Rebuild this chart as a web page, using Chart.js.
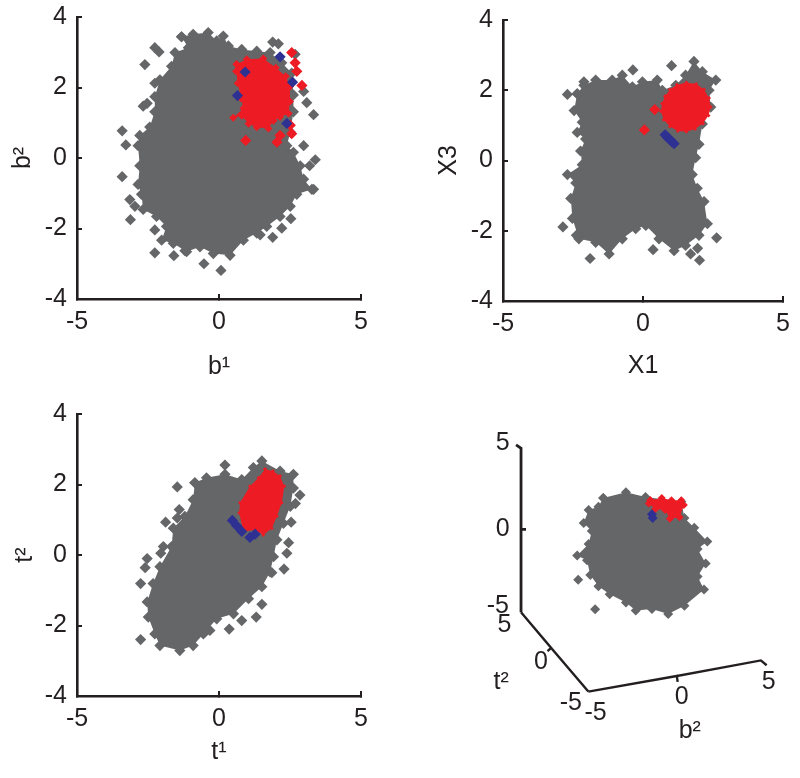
<!DOCTYPE html>
<html><head><meta charset="utf-8">
<script src="https://cdn.jsdelivr.net/npm/chart.js@4"></script>
<style>
html,body{margin:0;padding:0;background:#fff;width:800px;height:778px;overflow:hidden}
canvas{position:absolute;display:block}
</style></head><body>
<canvas id="a" style="left:0;top:0"></canvas>
<canvas id="b" style="left:400px;top:0"></canvas>
<canvas id="c" style="left:0;top:389px"></canvas>
<canvas id="d" style="left:400px;top:389px"></canvas>
<script>
const ticksX=[-5,0,5], ticksY=[-4,-2,0,2,4];

// Panel A: b1 / b2
const aGrayBody=[[-1.32,3.44],[-0.91,3.51],[-0.38,3.56],[-0.08,3.32],[0.15,3.46],[0.33,3.18],[0.80,3.08],[1.33,3.03],[1.80,2.99],[2.21,2.70],[2.56,2.41],[2.62,1.79],[2.62,1.31],[2.51,0.74],[2.39,0.35],[2.62,0.16],[2.86,-0.22],[2.98,-0.60],[3.27,-0.89],[2.74,-1.03],[2.51,-1.37],[2.15,-1.66],[1.68,-1.94],[1.33,-2.13],[0.86,-2.33],[0.39,-2.76],[-0.20,-2.71],[-0.67,-2.52],[-1.14,-2.66],[-1.61,-2.42],[-2.02,-2.33],[-1.85,-1.94],[-2.20,-1.66],[-2.67,-1.46],[-2.73,-1.03],[-2.85,-0.75],[-2.79,-0.22],[-2.85,0.35],[-2.79,0.64],[-2.44,0.88],[-2.26,1.31],[-2.26,1.74],[-2.08,2.22],[-1.67,2.60],[-1.55,2.99],[-1.08,3.13],[-1.32,3.44]];
const aGrayPts=[[-3.41,0.77],[-3.28,0.37],[-3.41,-0.53],[-3.12,-1.75],[-3.14,-1.18],[-2.96,-1.37],[-2.26,-2.69],[-1.59,-2.77],[-0.53,-3.00],[0.07,-3.19],[-2.61,2.65],[-2.26,3.13],[-2.11,3.01],[-2.67,1.47],[-2.53,1.55],[-2.26,2.12],[-1.96,1.84],[1.89,3.29],[2.09,3.24],[3.09,1.57],[3.33,1.23],[2.98,0.35],[3.39,-0.05],[3.19,-0.22],[3.33,-0.89],[2.53,-1.72],[1.89,-2.25],[2.21,-1.99],[1.45,-2.18],[-2.26,-2.04],[-1.20,-2.63],[2.98,1.89],[2.68,2.94]];
const aRedBody=[[0.62,2.66],[0.98,2.80],[1.56,2.82],[2.00,2.56],[2.35,2.32],[2.50,2.03],[2.50,1.60],[2.45,1.26],[2.15,1.16],[1.92,1.06],[1.74,0.84],[1.33,0.87],[1.04,0.97],[0.80,1.20],[0.50,1.14],[0.86,1.41],[0.78,1.69],[0.66,2.12],[0.60,2.46],[0.62,2.66]];
const aRedPts=[[2.56,2.99],[2.68,2.70],[2.74,2.46],[2.92,2.06],[2.51,0.93],[2.56,0.69],[2.15,0.64],[2.04,0.45],[0.94,0.50]];
const aBlue=[[2.15,2.87],[2.59,2.15],[0.65,1.77],[2.39,0.98],[0.92,2.44]];

// Panel B: X1 / X3
const bGrayBody=[[-2.35,1.90],[-2.11,2.14],[-1.69,2.29],[-1.10,2.29],[-0.74,2.43],[-0.38,2.10],[-0.02,2.24],[0.51,2.29],[0.69,2.00],[1.17,2.14],[1.52,2.43],[1.82,2.82],[2.12,2.53],[2.60,2.29],[2.36,2.00],[2.42,1.52],[2.12,1.04],[2.00,0.46],[1.88,0.08],[1.76,-0.40],[1.94,-0.79],[2.18,-1.17],[2.30,-1.80],[2.00,-2.13],[1.52,-2.42],[1.11,-2.57],[0.57,-2.23],[0.10,-1.85],[-0.26,-1.94],[-0.74,-2.23],[-1.21,-2.66],[-1.69,-2.33],[-2.29,-2.23],[-2.52,-1.65],[-2.58,-1.08],[-2.40,-0.64],[-2.70,-0.40],[-2.17,-0.12],[-2.23,0.27],[-2.05,0.61],[-2.35,0.80],[-2.17,1.09],[-2.46,1.42],[-2.35,1.90]];
const bGrayPts=[[-2.70,1.88],[-2.11,2.24],[-0.36,2.58],[1.02,2.70],[-2.86,-1.89],[-2.38,-2.13],[-1.89,-2.79],[0.36,-2.54],[2.63,-2.20],[2.02,-2.84],[1.70,-2.66],[1.95,-2.50],[-1.33,-2.42]];
const bRedBody=[[0.79,1.83],[0.96,2.02],[1.21,2.16],[1.55,2.22],[1.90,2.18],[2.18,2.02],[2.36,1.78],[2.42,1.52],[2.34,1.28],[2.14,1.05],[1.86,0.90],[1.55,0.82],[1.24,0.84],[0.96,0.97],[0.74,1.16],[0.64,1.40],[0.68,1.62],[0.79,1.83]];
const bRedPts=[[0.05,0.87],[0.42,1.45]];
const bBlue=[[0.79,0.73],[0.87,0.66],[0.95,0.60],[1.03,0.54],[1.11,0.48]];

// Panel C: t1 / t2
const cGrayBody=[[-0.85,2.05],[-0.44,2.19],[0.21,2.29],[0.80,2.14],[1.21,2.48],[1.51,2.67],[2.15,2.38],[2.62,2.29],[2.62,1.90],[2.51,1.38],[2.27,0.90],[2.04,0.43],[1.92,-0.05],[1.80,-0.48],[1.51,-0.90],[1.04,-1.24],[0.51,-1.67],[-0.08,-1.81],[-0.55,-2.24],[-0.91,-2.57],[-1.38,-2.71],[-2.08,-2.57],[-2.26,-2.24],[-2.49,-1.76],[-2.53,-1.33],[-2.32,-0.81],[-2.08,-0.33],[-1.67,0.24],[-1.61,0.76],[-1.20,1.10],[-0.91,1.57],[-0.85,2.05]];
const cGrayPts=[[-1.47,1.93],[0.21,2.55],[-1.88,0.93],[-1.40,1.29],[-1.47,1.05],[-1.96,0.24],[-2.05,0.05],[-2.53,-0.10],[-2.60,-0.36],[-2.76,-0.81],[-2.76,-2.40],[0.36,-2.10],[1.31,-1.76],[1.51,-1.40],[0.80,-1.86],[2.29,-0.40],[2.39,0.05],[2.45,0.35],[2.54,0.93],[2.85,1.70],[2.69,1.46],[-0.32,-2.14],[1.86,-0.50]];
const cRedBody=[[1.62,2.43],[1.90,2.38],[2.15,2.24],[2.30,1.95],[2.21,1.48],[2.04,1.10],[1.86,0.76],[1.56,0.57],[1.27,0.71],[0.86,0.67],[0.71,1.19],[0.74,1.48],[1.09,1.95],[1.39,2.19],[1.62,2.43]];
const cRedPts=[];
const cBlue=[[0.47,0.98],[0.62,0.83],[0.80,0.67],[1.09,0.50],[1.27,0.59]];

// Panel D: 3-D view, values in projected plot units
const dGrayBody=[[-0.04,1.90],[1.33,2.25],[2.51,1.96],[4.67,1.67],[4.86,0.69],[5.45,0.10],[6.24,-0.73],[5.65,-1.18],[6.14,-2.06],[5.65,-2.84],[6.04,-3.63],[4.86,-4.61],[3.88,-5.10],[2.90,-4.80],[1.92,-4.90],[1.33,-4.41],[0.35,-3.92],[-0.33,-3.43],[-0.82,-2.75],[-1.02,-1.86],[-1.61,-1.57],[-0.92,-0.88],[-0.73,-0.10],[-1.22,0.39],[-0.92,1.18],[-0.33,1.37],[-0.04,1.90]];
const dGrayPts=[[-1.55,-3.04],[-0.53,-4.82]];
const dRedBody=[[2.80,1.76],[3.49,1.90],[4.08,1.76],[4.67,1.76],[4.82,1.47],[4.57,0.73],[3.98,0.65],[3.69,1.18],[3.10,1.24],[2.71,1.57],[2.80,1.76]];
const dRedPts=[];
const dBlue=[[2.90,0.92],[2.94,0.69]];
const dAxisZ=[[-5.3,5.1],[-5,4.9],[-5,0],[-4.7,0],[-5,0],[-5,-5]];
const dAxisT=[[-5,-5],[-3.18,-7.15],[-3.4,-7.35],[-3.18,-7.15],[-0.94,-9.79]];
const dAxisB=[[-0.94,-9.79],[4.4,-8.85],[4.45,-9.2],[4.4,-8.85],[9.47,-7.91],[9.82,-8.2]];
const dLabelText=["5","0","-5","5","0","-5","-5","0","5"];
const dLabelX=[-6.1,-6.1,-6.4,-6.0,-3.8,-2.0,-0.5,4.7,9.94];
const dLabelY=[5.2,0.0,-4.65,-5.8,-8.0,-10.5,-11.1,-10.1,-9.2];
const dTitleText=["t²","b²"];
const dTitleX=[-6.2,5.18];
const dTitleY=[-9.2,-12.2];

const GRAY="#656667",RED="#ed1c24",BLUE="#2e3192",INK="#231f20";
const FONT={family:"'Liberation Sans',Arial,sans-serif",size:25};
const pts=a=>a.map(p=>({x:p[0],y:p[1]}));

function body(a,c,r){return{data:pts(a),showLine:true,fill:'shape',borderWidth:0,backgroundColor:c,borderColor:c,pointStyle:'rectRot',pointRadius:r,pointBackgroundColor:c,pointBorderWidth:0,tension:0};}
function dots(a,c,r){return{data:pts(a),showLine:false,pointStyle:'rectRot',pointRadius:r,pointBackgroundColor:c,backgroundColor:c,pointBorderWidth:0};}
function line(a,w){return{data:pts(a),showLine:true,fill:false,borderColor:INK,borderWidth:w,pointRadius:0,tension:0};}
function series(s,r,rr){return [dots(s.blue,BLUE,r),dots(s.redPts,RED,r),body(s.red,RED,rr),dots(s.grayPts,GRAY,r),body(s.gray,GRAY,r)];}

function noOverhang(a){a.paddingTop=0;a.paddingBottom=0;a.paddingLeft=0;a.paddingRight=0;}
function plot2d(id,s,xt,yt,area,w,h,rr){
  const scale=(vals,title,pad,tp)=>({type:'linear',min:vals[0],max:vals[vals.length-1],
    afterBuildTicks:ax=>{ax.ticks=vals.map(v=>({value:v}));},
    border:{color:INK,width:2.6},
    grid:{drawOnChartArea:false,color:INK,lineWidth:2,tickLength:-5},
    ticks:{color:INK,font:FONT,padding:pad,maxRotation:0,autoSkip:false,includeBounds:true,callback:v=>String(v)},
    title:{display:true,text:title,color:INK,font:FONT,padding:tp}});
  const el=document.getElementById(id);el.width=w;el.height=h;
  new Chart(el,{type:'scatter',data:{datasets:series(s,5.6,rr)},options:{
    responsive:false,animation:false,
    layout:{padding:{left:0,top:area.t,right:w-area.r,bottom:0}},
    plugins:{legend:{display:false},tooltip:{enabled:false}},
    scales:{
      x:Object.assign(scale(ticksX,xt,13,{top:0,bottom:area.xtb}),{afterFit:a=>{a.height=h-area.b;noOverhang(a);}}),
      y:Object.assign(scale(ticksY,yt,15,{top:area.ytt,bottom:0}),{afterFit:a=>{a.width=area.l;noOverhang(a);}})
    }}});
}

plot2d('a',{gray:aGrayBody,grayPts:aGrayPts,red:aRedBody,redPts:aRedPts,blue:aBlue},'b¹','b²',{l:77,t:17,r:361,b:299,xtb:7,ytt:8},400,389,4);
plot2d('b',{gray:bGrayBody,grayPts:bGrayPts,red:bRedBody,redPts:bRedPts,blue:bBlue},'X1','X3',{l:103,t:20,r:383,b:301,xtb:8,ytt:34},400,389,2);
plot2d('c',{gray:cGrayBody,grayPts:cGrayPts,red:cRedBody,redPts:cRedPts,blue:cBlue},'t¹','t²',{l:77,t:25,r:361,b:307,xtb:11,ytt:10},400,389,2);

const textPlugin={id:'axisText',afterDatasetsDraw(ch){
  const g=ch.ctx,X=ch.scales.x,Y=ch.scales.y;
  g.save();g.fillStyle=INK;g.font=FONT.size+"px "+FONT.family;g.textAlign='center';g.textBaseline='middle';
  dLabelText.forEach((t,i)=>g.fillText(t,X.getPixelForValue(dLabelX[i]),Y.getPixelForValue(dLabelY[i])));
  dTitleText.forEach((t,i)=>g.fillText(t,X.getPixelForValue(dTitleX[i]),Y.getPixelForValue(dTitleY[i])));
  g.restore();
}};
(function(){
  const el=document.getElementById('d');el.width=400;el.height=389;
  const ds=series({gray:dGrayBody,grayPts:dGrayPts,red:dRedBody,redPts:dRedPts,blue:dBlue},5,4);
  ds.unshift(line(dAxisZ,2.8),line(dAxisT,2.4),line(dAxisB,2.4));
  const pxPerUnit=17, x0=119, y0=139;
  new Chart(el,{type:'scatter',plugins:[textPlugin],data:{datasets:ds},options:{
    responsive:false,animation:false,layout:{padding:0},
    plugins:{legend:{display:false},tooltip:{enabled:false}},
    scales:{
      x:{type:'linear',display:false,min:-5-x0/pxPerUnit,max:-5+(400-x0)/pxPerUnit},
      y:{type:'linear',display:false,min:-(389-y0)/pxPerUnit,max:y0/pxPerUnit}
    }}});
})();
</script>
</body></html>
